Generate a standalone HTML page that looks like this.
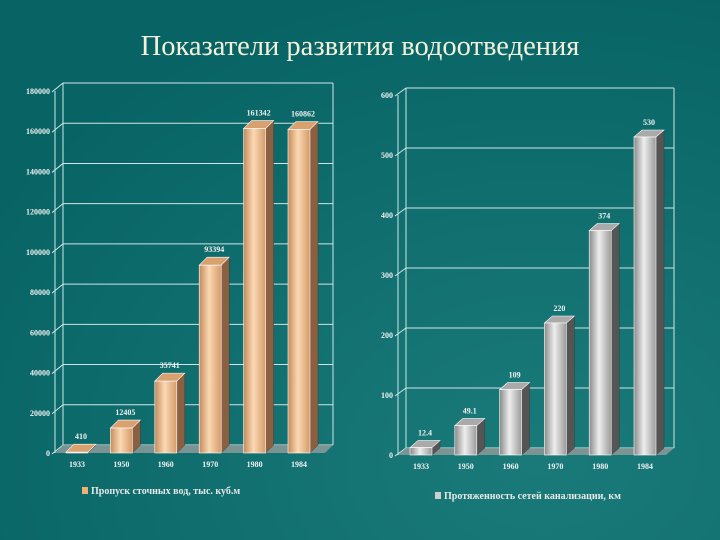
<!DOCTYPE html>
<html><head><meta charset="utf-8">
<style>
html,body{margin:0;padding:0;background:#0a6868;}
svg{display:block;font-family:"Liberation Serif","DejaVu Serif",serif;}
</style></head>
<body>
<svg id="s" width="720" height="540" viewBox="0 0 720 540">
<defs>
<radialGradient id="bg" cx="0.75" cy="0.85" r="0.9">
<stop offset="0" stop-color="#1a7a7a"/><stop offset="1" stop-color="#086464"/></radialGradient>
<linearGradient id="gold" x1="0" x2="1">
<stop offset="0" stop-color="#c58a5a"/><stop offset="0.45" stop-color="#fbd9b4"/><stop offset="1" stop-color="#d49a68"/></linearGradient>
<linearGradient id="silv" x1="0" x2="1">
<stop offset="0" stop-color="#8a8a8a"/><stop offset="0.45" stop-color="#eeeeee"/><stop offset="1" stop-color="#9a9a9a"/></linearGradient>
</defs>
<rect width="720" height="540" fill="url(#bg)"/>
<text x="360" y="55" text-anchor="middle" font-size="28.5" fill="#f3f0dc">Показатели развития водоотведения</text>
<g id="left"></g>
<g id="right"></g>
</svg>
<script>
const categories = ["1933","1950","1960","1970","1980","1984"];
const flowValues = [410,12405,35741,93394,161342,160862];
const flowLabels = ["410","12405","35741","93394","161342","160862"];
const flowTicks = [0,20000,40000,60000,80000,100000,120000,140000,160000,180000];
const lengthValues = [12.4,49.1,109,220,374,530];
const lengthLabels = ["12.4","49.1","109","220","374","530"];
const lengthTicks = [0,100,200,300,400,500,600];

const NS="http://www.w3.org/2000/svg";
function mk(tag,attrs,parent){const e=document.createElementNS(NS,tag);for(const k in attrs)e.setAttribute(k,attrs[k]);parent.appendChild(e);return e;}

function drawChart(g,cfg){
  const {x0,x1,y0,yTop,max,ticks,vals,labels,fill,side,top,legend,lx,ly,lcol,dx,dy,c0,step}=cfg;
  const yS=v=>y0-(v/max)*(y0-yTop);
  const xS=i=>c0+step*i;
  const wall=mk('path',{d:`M${x0+dx} ${yS(ticks[ticks.length-1])+dy} V${y0+dy} M${x1+dx} ${yS(ticks[ticks.length-1])+dy} V${y0+dy}`,stroke:'#cfe6e6','stroke-width':1,fill:'none'},g);
  
  
  ticks.forEach(t=>{
    const y=yS(t);
    const gl=mk('line',{x1:x0+dx,x2:x1+dx,y1:y+dy,y2:y+dy,stroke:'#cfe6e6','stroke-width':1},g);
    
    
    mk('line',{x1:x0-3,x2:x0+dx,y1:y+1,y2:y+dy,stroke:'#cfe6e6','stroke-width':1},g);
    const tl=mk('text',{x:x0-5,y:y+3,'text-anchor':'end','font-size':8,'font-weight':'bold',fill:'#f0f0f0'},g);
    tl.textContent=t;
    
    
  });
  const fl=mk('polygon',{points:`${x0},${y0} ${x1},${y0} ${x1+dx},${y0+dy} ${x0+dx},${y0+dy}`,fill:'#8d9a9a',opacity:0.85},g);
  
  
  mk('line',{x1:x0,x2:x0,y1:yTop,y2:y0,stroke:'#cfe6e6','stroke-width':1},g);
  categories.forEach((c,i)=>{
    const cx=xS(i),w=22,bx=cx-w/2,yt=yS(vals[i]);
    const bar=mk('g',{},g);
    
    
    mk('polygon',{points:`${bx+w},${yt} ${bx+w+dx},${yt+dy} ${bx+w+dx},${y0+dy} ${bx+w},${y0}`,fill:side,stroke:'#333','stroke-width':0.4},bar);
    mk('polygon',{points:`${bx},${yt} ${bx+dx},${yt+dy} ${bx+w+dx},${yt+dy} ${bx+w},${yt}`,fill:top,stroke:'#fff','stroke-width':0.6},bar);
    mk('rect',{x:bx,y:yt,width:w,height:Math.max(0,y0-yt),fill:fill,stroke:'#fff','stroke-width':0.6},bar);
    const vl=mk('text',{x:cx+4,y:yt+dy-5,'text-anchor':'middle','font-size':8,'font-weight':'bold',fill:'#f0f0f0'},g);
    vl.textContent=labels[i];
    
    
    const xl=mk('text',{x:cx,y:y0+14,'text-anchor':'middle','font-size':8,'font-weight':'bold',fill:'#f0f0f0'},g);
    xl.textContent=c;
    
    
  });
  const lg=mk('g',{},g);
  
  
  mk('rect',{x:lx,y:ly-7,width:6,height:7,fill:lcol},lg);
  const lt=mk('text',{x:lx+9,y:ly,'font-size':10,'font-weight':'bold',fill:'#e8e8e8'},lg);
  lt.textContent=legend;
}
drawChart(document.getElementById('left'),{x0:55,x1:325,y0:453,yTop:91,max:180000,ticks:flowTicks,vals:flowValues,labels:flowLabels,
  fill:'url(#gold)',side:'#8a6040',top:'#d9a070',legend:'Пропуск сточных вод, тыс. куб.м',lx:82,ly:494,lcol:'#f0b070',dx:8,dy:-8,c0:77,step:44.4});
drawChart(document.getElementById('right'),{x0:398,x1:666,y0:455,yTop:95,max:600,ticks:lengthTicks,vals:lengthValues,labels:lengthLabels,
  fill:'url(#silv)',side:'#555',top:'#aaa',legend:'Протяженность сетей канализации, км',lx:435,ly:499,lcol:'#cfcfcf',dx:8,dy:-7,c0:421,step:44.8});
</script>
</body></html>
